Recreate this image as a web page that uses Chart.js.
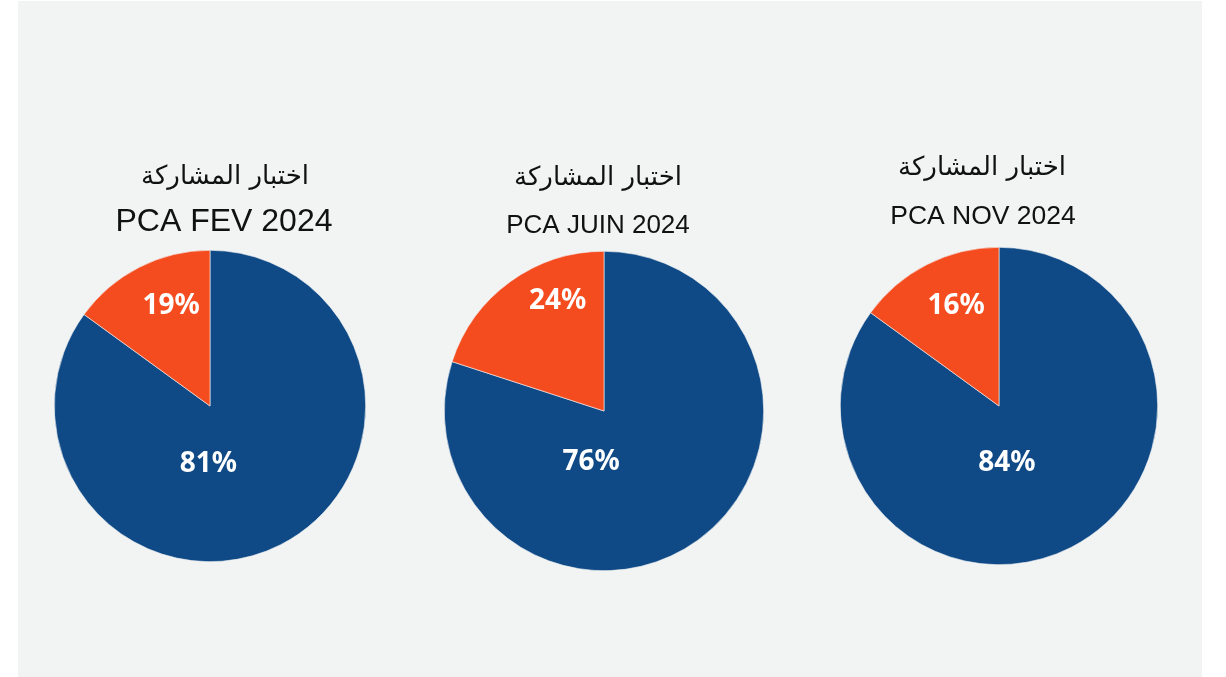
<!DOCTYPE html>
<html>
<head>
<meta charset="utf-8">
<script src="https://cdn.jsdelivr.net/npm/chart.js@4.4.1/dist/chart.umd.min.js"></script>
<style>
  html, body { margin: 0; padding: 0; background: #ffffff; }
  #panel { position: absolute; left: 18px; top: 1px; width: 1184px; height: 676px; background: #f2f3f3; }
  canvas { position: absolute; }
</style>
</head>
<body>
<div id="panel"></div>

<script>
// Data
const surveyTitle = 'اختبار المشاركة';
const periods = ['PCA FEV 2024', 'PCA JUIN 2024', 'PCA NOV 2024'];
const categories = ['Participation', 'Non-participation'];
// slice sizes as drawn in the picture
const sliceFev = [85, 15];
const sliceJuin = [80, 20];
const sliceNov = [85, 15];
const sliceValues = [sliceFev, sliceJuin, sliceNov];
// percentages printed on the slices
const labelFev = ['81%', '19%'];
const labelJuin = ['76%', '24%'];
const labelNov = ['84%', '16%'];
const labelTexts = [labelFev, labelJuin, labelNov];

const sliceColors = ['#0f4a87', '#f54c1f'];

// Layout of each pie (page pixels): centre, radius, title positions and sizes
const layouts = [
    { cx: 210, cy: 405.5, r: 156, titleX: 225, titleY: 177, titleSize: 26, subX: 224, subY: 222, subSize: 32,
      labelOffsets: [[-0.01, 0.37], [-0.25, -0.64]] },
    { cx: 603.5, cy: 411, r: 160, titleX: 597.5, titleY: 178, titleSize: 26, subX: 597.5, subY: 226, subSize: 26,
      labelOffsets: [[-0.08, 0.32], [-0.29, -0.69]] },
    { cx: 998.5, cy: 405.5, r: 159, titleX: 981.5, titleY: 168, titleSize: 26, subX: 982.5, subY: 217, subSize: 26.5,
      labelOffsets: [[0.05, 0.36], [-0.27, -0.63]] }
];

const panelTop = 120;

// Percent labels drawn inside each slice
const sliceLabels = {
    id: 'sliceLabels',
    afterDatasetsDraw(chart, args, opts) {
        const ctx = chart.ctx;
        const meta = chart.getDatasetMeta(0);
        ctx.save();
        ctx.font = 'bold 28px "Noto Sans", "Open Sans", sans-serif';
        ctx.fillStyle = '#ffffff';
        ctx.textAlign = 'center';
        ctx.textBaseline = 'middle';
        meta.data.forEach(function(arc, i) {
            const off = opts.offsets[i];
            const x = arc.x + off[0] * arc.outerRadius;
            const y = arc.y + off[1] * arc.outerRadius;
            ctx.fillText(opts.texts[i], x, y);
        });
        ctx.restore();
    }
};

// Two-line heading above each pie
const pieHeading = {
    id: 'pieHeading',
    afterDraw(chart, args, opts) {
        const ctx = chart.ctx;
        ctx.save();
        ctx.fillStyle = '#111111';
        ctx.textAlign = 'center';
        ctx.textBaseline = 'middle';
        opts.lines.forEach(function(line) {
            ctx.font = line.size + 'px ' + line.family;
            ctx.fillText(line.text, line.x, line.y);
        });
        ctx.restore();
    }
};

layouts.forEach(function(lay, idx) {
    const canvas = document.createElement('canvas');
    const width = Math.round(lay.r * 2 + 80);
    const left = lay.cx - width / 2;
    const height = Math.round(lay.cy + lay.r - panelTop);
    canvas.width = width;
    canvas.height = height;
    canvas.style.left = left + 'px';
    canvas.style.top = panelTop + 'px';
    canvas.style.width = width + 'px';
    canvas.style.height = height + 'px';
    document.body.appendChild(canvas);

    new Chart(canvas, {
        type: 'pie',
        data: {
            labels: categories,
            datasets: [{
                data: sliceValues[idx],
                backgroundColor: sliceColors,
                borderColor: '#f2f3f3',
                borderWidth: 0.6
            }]
        },
        options: {
            responsive: false,
            animation: false,
            events: [],
            layout: { padding: { top: height - lay.r * 2, left: 0, right: 0, bottom: 0 } },
            plugins: {
                legend: { display: false },
                tooltip: { enabled: false },
                sliceLabels: { offsets: lay.labelOffsets, texts: labelTexts[idx] },
                pieHeading: {
                    lines: [
                        { text: surveyTitle, x: lay.titleX - left, y: lay.titleY - panelTop,
                          size: lay.titleSize, family: '"DejaVu Sans", sans-serif' },
                        { text: periods[idx], x: lay.subX - left, y: lay.subY - panelTop,
                          size: lay.subSize, family: '"Liberation Sans", Arial, sans-serif' }
                    ]
                }
            }
        },
        plugins: [sliceLabels, pieHeading]
    });
});
</script>
</body>
</html>
